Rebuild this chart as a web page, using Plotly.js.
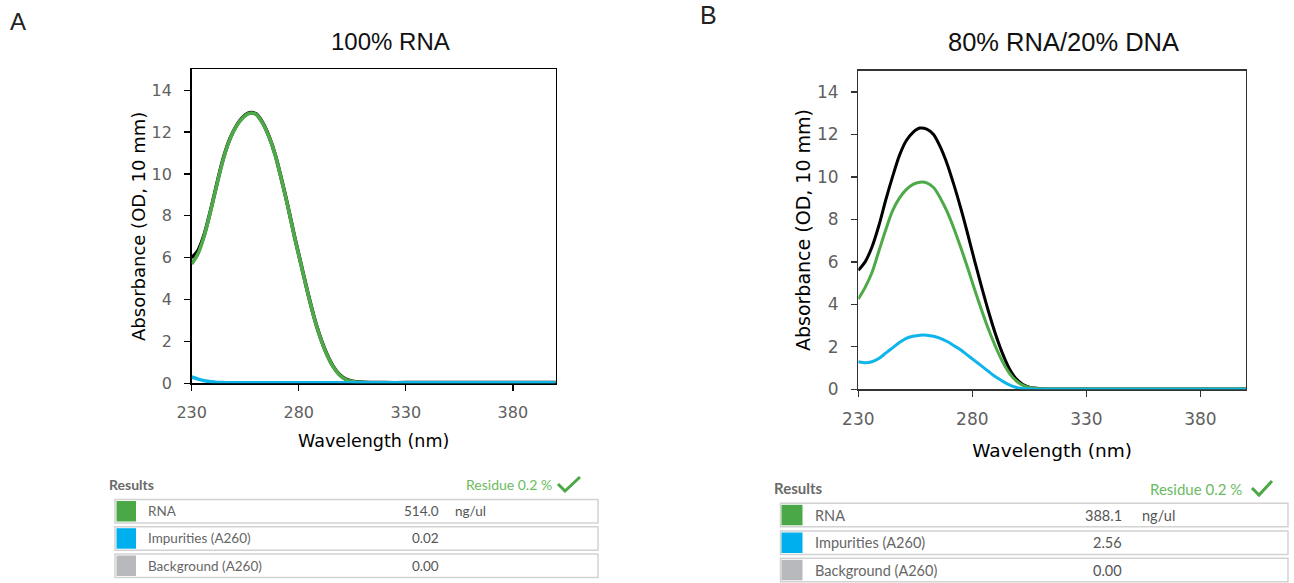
<!DOCTYPE html>
<html><head><meta charset="utf-8">
<script src="https://cdn.plot.ly/plotly-3.0.1.min.js"></script>
<style>html,body{margin:0;padding:0;background:#fff}#chart{width:1294px;height:583px}</style>
</head><body><div id="chart"></div>
<script>
// ---------- data ----------
const wavelength = [230,233,236,239,242,245,248,251,254,257,260,263,266,269,272,275,278,281,284,287,290,293,296,299,302,305,310,320,330,340,350,360,370,380,390,400];

// Panel A: 100% RNA
const totalA = [6.0,6.35,7.15,8.33,9.63,10.83,11.72,12.32,12.72,12.92,12.87,12.47,11.82,10.92,9.72,8.42,7.02,5.72,4.42,3.22,2.22,1.42,0.82,0.42,0.2,0.1,0.05,0.03,0.03,0.03,0.03,0.03,0.03,0.03,0.03,0.03];
const rnaA   = [5.7,6.2,7.1,8.3,9.6,10.8,11.7,12.3,12.7,12.9,12.85,12.45,11.8,10.9,9.7,8.4,7.0,5.7,4.4,3.2,2.2,1.4,0.8,0.4,0.18,0.08,0.03,0.01,0.01,0.01,0.01,0.01,0.01,0.01,0.01,0.01];
const impA   = [0.3,0.2,0.12,0.07,0.04,0.03,0.02,0.02,0.02,0.02,0.02,0.02,0.02,0.02,0.02,0.02,0.02,0.02,0.02,0.02,0.02,0.02,0.02,0.02,0.02,0.02,0.02,0.02,0.02,0.02,0.02,0.02,0.02,0.02,0.02,0.02];

// Panel B: 80% RNA / 20% DNA
const totalB = [5.6,6.0,6.7,7.7,8.9,10.0,11.0,11.7,12.1,12.3,12.25,12.0,11.4,10.6,9.6,8.5,7.3,6.05,4.85,3.7,2.65,1.75,1.02,0.52,0.24,0.1,0.03,0.01,0.01,0.01,0.01,0.01,0.01,0.01,0.01,0.01];
const rnaB   = [4.25,4.8,5.5,6.5,7.5,8.4,9.0,9.4,9.65,9.75,9.72,9.5,9.0,8.35,7.55,6.65,5.7,4.7,3.75,2.85,2.05,1.35,0.8,0.42,0.2,0.09,0.03,0.01,0.01,0.01,0.01,0.01,0.01,0.01,0.01,0.01];
const impB   = [1.3,1.25,1.3,1.45,1.7,1.95,2.2,2.4,2.5,2.55,2.55,2.5,2.4,2.25,2.05,1.85,1.6,1.35,1.1,0.85,0.6,0.4,0.22,0.1,0.04,0.01,0,0,0,0,0,0,0,0,0,0];

const xTicks = [230,280,330,380];
const yTicks = [0,2,4,6,8,10,12,14];

const panelTitles = ["100% RNA", "80% RNA/20% DNA"];
const panelLetters = ["A", "B"];

const resultLabels = ["RNA", "Impurities (A260)", "Background (A260)"];
const resultValuesA = ["514.0", "0.02", "0.00"];
const resultValuesB = ["388.1", "2.56", "0.00"];
const resultUnits = ["ng/ul", "", ""];
const residueText = "Residue 0.2 %";

// ---------- styling ----------
const W = 1294, H = 583;
const px = x => x / W;
const py = y => 1 - y / H;
const GREEN = "#4ea948", BLUE = "#0fb4ea", BLACK = "#000000";
const swatchColors = ["#4aa846", "#00b0ee", "#b8b9bd"];

function lineTrace(y, color, width, xa, ya) {
  return {x: wavelength, y: y, type: "scatter", mode: "lines", xaxis: xa, yaxis: ya,
    line: {color: color, width: width, shape: "spline", smoothing: 0.8}, hoverinfo: "x+y"};
}

const traces = [
  lineTrace(totalA, BLACK, 3.6, "x", "y"),
  lineTrace(rnaA, GREEN, 3.6, "x", "y"),
  lineTrace(impA, BLUE, 3.6, "x", "y"),
  lineTrace(totalB, BLACK, 3, "x2", "y2"),
  lineTrace(rnaB, GREEN, 3, "x2", "y2"),
  lineTrace(impB, BLUE, 3, "x2", "y2")
];

const tickFont = {family: "DejaVu Sans", size: 16, color: "#5f5f5f"};
function xAxis(domain, anchor, lc, lw, tfs, titleSize, standoff) {
  return {domain: domain, anchor: anchor, range: [230, 400], tickmode: "array", tickvals: xTicks,
    ticktext: xTicks.map(String), ticks: "outside", ticklen: 6, tickwidth: 1.3, tickcolor: lc,
    showline: true, linecolor: lc, linewidth: lw, mirror: true, showgrid: false, zeroline: false,
    tickfont: Object.assign({}, tickFont, {size: tfs}), ticklabelstandoff: 8, layer: "below traces",
    title: {text: "Wavelength (nm)", font: {family: "DejaVu Sans", size: titleSize, color: "#000"}, standoff: standoff}};
}
function yAxis(domain, anchor, lc, lw, tfs, titleSize, standoff) {
  return {domain: domain, anchor: anchor, range: [0, 15], tickmode: "array", tickvals: yTicks,
    ticktext: yTicks.map(String), ticks: "outside", ticklen: 6, tickwidth: 1.3, tickcolor: lc,
    showline: true, linecolor: lc, linewidth: lw, mirror: true, showgrid: false, zeroline: false,
    tickfont: Object.assign({}, tickFont, {size: tfs}), ticklabelstandoff: 9, layer: "below traces",
    title: {text: "Absorbance (OD, 10 mm)", font: {family: "DejaVu Sans", size: titleSize, color: "#000"}, standoff: standoff}};
}

const annotations = [];
const shapes = [];

// panel titles & letters
annotations.push({xref: "paper", yref: "paper", x: px(390.7), y: py(41), text: panelTitles[0], showarrow: false,
  xanchor: "center", yanchor: "middle", font: {family: "Liberation Sans", size: 24, color: "#111"}});
annotations.push({xref: "paper", yref: "paper", x: px(1063), y: py(42), text: panelTitles[1], showarrow: false,
  xanchor: "center", yanchor: "middle", font: {family: "Liberation Sans", size: 25.5, color: "#111"}});
annotations.push({xref: "paper", yref: "paper", x: px(18), y: py(22), text: panelLetters[0], showarrow: false,
  xanchor: "center", yanchor: "middle", font: {family: "Liberation Sans", size: 24, color: "#222"}});
annotations.push({xref: "paper", yref: "paper", x: px(708), y: py(15), text: panelLetters[1], showarrow: false,
  xanchor: "center", yanchor: "middle", font: {family: "Liberation Sans", size: 25, color: "#222"}});

// results tables
function buildTable(cfg, values) {
  annotations.push({xref: "paper", yref: "paper", x: px(cfg.resultsX), y: py(cfg.resultsY), text: "<b>Results</b>",
    showarrow: false, xanchor: "left", yanchor: "middle", font: {family: "Lato", size: cfg.fs + 0.5, color: "#6a6a6a"}});
  annotations.push({xref: "paper", yref: "paper", x: px(cfg.residueRight), y: py(cfg.residueY), text: residueText,
    showarrow: false, xanchor: "right", yanchor: "middle", font: {family: "Lato", size: cfg.fs + 0.5, color: "#6cbb5f"}});
  const c = cfg.check;
  shapes.push({type: "path", xref: "paper", yref: "paper",
    path: `M ${px(c[0])} ${py(c[1])} L ${px(c[2])} ${py(c[3])} L ${px(c[4])} ${py(c[5])}`,
    line: {color: "#4aa846", width: 3}});
  resultLabels.forEach((lab, i) => {
    const top = cfg.rowTops[i], bot = top + cfg.rowH, mid = (top + bot) / 2;
    shapes.push({type: "rect", xref: "paper", yref: "paper", x0: px(cfg.boxL), x1: px(cfg.boxR), y0: py(bot), y1: py(top),
      line: {color: "#d2d2d2", width: 1.5}, fillcolor: "#ffffff", layer: "below"});
    shapes.push({type: "rect", xref: "paper", yref: "paper", x0: px(cfg.swL), x1: px(cfg.swR), y0: py(bot - 1.5), y1: py(top + 1.5),
      line: {width: 0}, fillcolor: swatchColors[i], layer: "below"});
    annotations.push({xref: "paper", yref: "paper", x: px(cfg.labelX), y: py(mid), text: lab, showarrow: false,
      xanchor: "left", yanchor: "middle", font: {family: "Lato", size: cfg.fs, color: "#666"}});
    annotations.push({xref: "paper", yref: "paper", x: px(cfg.valueR), y: py(mid), text: values[i], showarrow: false,
      xanchor: "right", yanchor: "middle", font: {family: "Lato", size: cfg.fs, color: "#555"}});
    if (resultUnits[i]) annotations.push({xref: "paper", yref: "paper", x: px(cfg.unitX), y: py(mid), text: resultUnits[i], showarrow: false,
      xanchor: "left", yanchor: "middle", font: {family: "Lato", size: cfg.fs, color: "#555"}});
  });
}

buildTable({resultsX: 107, resultsY: 484, residueRight: 553.5, residueY: 484, check: [558, 484, 565, 491, 580, 477],
  rowTops: [499.5, 526.7, 554], rowH: 23.5, boxL: 115, boxR: 598, swL: 116.5, swR: 136, labelX: 146, valueR: 441, unitX: 453,
  fs: 13.5}, resultValuesA);
buildTable({resultsX: 771.5, resultsY: 487.5, residueRight: 1244, residueY: 488.5, check: [1252, 488, 1259, 495, 1272, 481],
  rowTops: [503.3, 531, 558.3], rowH: 23.5, boxL: 780.5, boxR: 1288, swL: 781.5, swR: 802.5, labelX: 812.5, valueR: 1123.5, unitX: 1140,
  fs: 14.5}, resultValuesB);

const layout = {
  width: W, height: H, margin: {l: 0, r: 0, t: 0, b: 0}, paper_bgcolor: "#fff", plot_bgcolor: "#fff",
  showlegend: false,
  xaxis: xAxis([px(191.7), px(555.7)], "y", "#000", 1.6, 16, 17.5, 13),
  yaxis: yAxis([py(383.3), py(69.3)], "x", "#000", 1.6, 16, 18, 1),
  xaxis2: xAxis([px(858.3), px(1246)], "y2", "#333", 1.3, 17, 18.5, 16),
  yaxis2: yAxis([py(389.3), py(70.7)], "x2", "#333", 1.3, 17, 19, 1),
  annotations: annotations,
  shapes: shapes
};

Plotly.newPlot("chart", traces, layout, {displayModeBar: false, staticPlot: true});
</script>
</body></html>
